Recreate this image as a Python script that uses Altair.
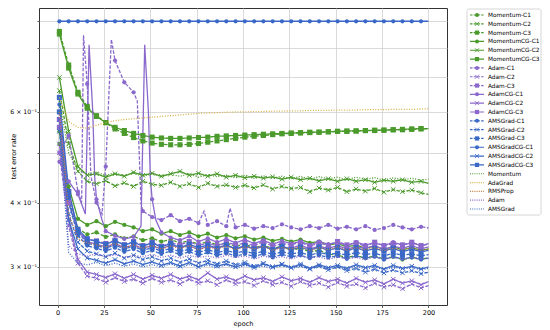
import altair as alt
import pandas as pd

EPOCHS = [1, 6, 11, 16, 21, 26, 31, 36, 41, 46, 51, 56, 61, 66, 71, 76, 81, 86, 91, 96,
          101, 106, 111, 116, 121, 126, 131, 136, 141, 146, 151, 156, 161, 166, 171, 176,
          181, 186, 191, 196, 200]

MOMENTUM_C1 = [0.52, 0.40, 0.356, 0.347, 0.350, 0.343, 0.347, 0.341, 0.344, 0.338, 0.341, 0.336, 0.339, 0.334, 0.337, 0.332, 0.336, 0.331, 0.334, 0.329, 0.332, 0.327, 0.330, 0.326, 0.329, 0.323, 0.326, 0.321, 0.323, 0.318, 0.316, 0.313, 0.316, 0.312, 0.315, 0.311, 0.314, 0.310, 0.313, 0.311, 0.312]
MOMENTUM_C2 = [0.66, 0.52, 0.46, 0.440, 0.435, 0.441, 0.431, 0.437, 0.430, 0.440, 0.434, 0.432, 0.438, 0.430, 0.435, 0.428, 0.436, 0.430, 0.433, 0.428, 0.432, 0.427, 0.433, 0.425, 0.430, 0.426, 0.428, 0.420, 0.427, 0.423, 0.428, 0.420, 0.425, 0.421, 0.426, 0.419, 0.424, 0.420, 0.423, 0.418, 0.415]
MOMENTUM_C3 = [0.86, 0.74, 0.655, 0.615, 0.59, 0.572, 0.556, 0.545, 0.535, 0.527, 0.522, 0.519, 0.518, 0.518, 0.519, 0.521, 0.524, 0.527, 0.53, 0.533, 0.536, 0.538, 0.54, 0.542, 0.544, 0.545, 0.546, 0.547, 0.548, 0.549, 0.55, 0.55, 0.551, 0.552, 0.552, 0.553, 0.554, 0.554, 0.555, 0.556, 0.556]
MOMENTUMCG_C1 = [0.55, 0.43, 0.372, 0.362, 0.368, 0.360, 0.367, 0.362, 0.358, 0.352, 0.355, 0.348, 0.352, 0.346, 0.350, 0.344, 0.348, 0.342, 0.346, 0.341, 0.344, 0.339, 0.342, 0.337, 0.340, 0.336, 0.339, 0.334, 0.336, 0.331, 0.333, 0.328, 0.331, 0.326, 0.329, 0.325, 0.328, 0.324, 0.327, 0.323, 0.325]
MOMENTUMCG_C2 = [0.70, 0.55, 0.47, 0.452, 0.455, 0.448, 0.455, 0.450, 0.458, 0.452, 0.456, 0.450, 0.455, 0.460, 0.452, 0.456, 0.450, 0.455, 0.448, 0.452, 0.447, 0.450, 0.446, 0.449, 0.444, 0.448, 0.443, 0.446, 0.441, 0.445, 0.440, 0.445, 0.440, 0.443, 0.438, 0.442, 0.440, 0.443, 0.438, 0.440, 0.436]
MOMENTUMCG_C3 = [0.85, 0.73, 0.65, 0.61, 0.588, 0.572, 0.56, 0.552, 0.545, 0.54, 0.536, 0.534, 0.533, 0.533, 0.534, 0.535, 0.536, 0.538, 0.539, 0.54, 0.541, 0.542, 0.543, 0.544, 0.545, 0.546, 0.547, 0.548, 0.548, 0.549, 0.55, 0.551, 0.551, 0.552, 0.553, 0.553, 0.554, 0.555, 0.556, 0.557, 0.557]

ADAM_C1_EPOCHS = [1, 6, 11, 13, 14, 16, 18, 21, 24, 26, 29, 31, 36, 41, 43, 45, 46, 51, 56, 61,
                  66, 71, 76, 79, 81, 86, 91, 93, 96, 101, 106, 111, 116, 121, 126, 131, 136,
                  141, 146, 151, 156, 161, 166, 171, 176, 181, 186, 191, 196, 200]
ADAM_C1 = [0.50, 0.54, 0.42, 0.40, 0.845, 0.68, 0.45, 0.40, 0.38, 0.47, 0.83, 0.755, 0.685, 0.655, 0.63, 0.40, 0.385, 0.375, 0.370, 0.378,
           0.368, 0.372, 0.365, 0.385, 0.362, 0.368, 0.360, 0.390, 0.358, 0.362, 0.356, 0.360, 0.357, 0.363, 0.358, 0.355, 0.360, 0.357, 0.362, 0.356,
           0.359, 0.355, 0.360, 0.354, 0.357, 0.362, 0.358, 0.355, 0.359, 0.357]
ADAM_C2 = [0.50, 0.36, 0.305, 0.288, 0.285, 0.280, 0.286, 0.281, 0.284, 0.279, 0.285, 0.280, 0.283, 0.278, 0.284, 0.279, 0.282, 0.277, 0.283, 0.278, 0.281, 0.276, 0.282, 0.277, 0.280, 0.275, 0.281, 0.276, 0.279, 0.274, 0.280, 0.275, 0.278, 0.273, 0.279, 0.274, 0.277, 0.272, 0.278, 0.273, 0.276]
ADAM_C3 = [0.56, 0.40, 0.350, 0.340, 0.337, 0.333, 0.338, 0.331, 0.336, 0.330, 0.335, 0.329, 0.334, 0.331, 0.336, 0.330, 0.334, 0.329, 0.335, 0.331, 0.334, 0.330, 0.336, 0.329, 0.333, 0.331, 0.335, 0.329, 0.334, 0.330, 0.336, 0.331, 0.334, 0.329, 0.335, 0.330, 0.333, 0.331, 0.335, 0.330, 0.332]
ADAMCG_C1_EPOCHS = [1, 6, 11, 15, 17, 19, 20, 21, 24, 26, 31, 36, 41, 45, 47, 49, 50, 51, 53, 56,
                    61, 66, 71, 76, 81, 86, 91, 96, 101, 106, 111, 116, 121, 126, 131, 136, 141,
                    146, 151, 156, 161, 166, 171, 176, 181, 186, 191, 196, 200]
ADAMCG_C1 = [0.48, 0.44, 0.415, 0.38, 0.81, 0.60, 0.45, 0.406, 0.37, 0.352, 0.345, 0.34, 0.343, 0.36, 0.81, 0.60, 0.45, 0.406, 0.37, 0.35,
             0.342, 0.338, 0.344, 0.336, 0.341, 0.335, 0.34, 0.334, 0.339, 0.333, 0.338, 0.332, 0.337, 0.333, 0.336, 0.331, 0.336, 0.332, 0.335, 0.33,
             0.335, 0.331, 0.334, 0.33, 0.335, 0.331, 0.334, 0.33, 0.333]
ADAMCG_C2 = [0.52, 0.37, 0.31, 0.293, 0.290, 0.286, 0.291, 0.285, 0.290, 0.284, 0.289, 0.285, 0.290, 0.284, 0.288, 0.283, 0.292, 0.284, 0.287, 0.282, 0.288, 0.283, 0.286, 0.281, 0.287, 0.282, 0.285, 0.280, 0.286, 0.281, 0.284, 0.279, 0.285, 0.280, 0.283, 0.278, 0.284, 0.279, 0.282, 0.277, 0.281]
ADAMCG_C3 = [0.58, 0.42, 0.352, 0.336, 0.332, 0.328, 0.333, 0.327, 0.331, 0.326, 0.330, 0.325, 0.331, 0.327, 0.330, 0.324, 0.329, 0.326, 0.331, 0.325, 0.329, 0.326, 0.330, 0.324, 0.328, 0.326, 0.331, 0.325, 0.329, 0.326, 0.330, 0.325, 0.328, 0.326, 0.330, 0.324, 0.329, 0.326, 0.330, 0.325, 0.328]

AMSGRAD_C1 = [0.62, 0.40, 0.345, 0.330, 0.326, 0.322, 0.327, 0.321, 0.325, 0.319, 0.323, 0.318, 0.322, 0.317, 0.321, 0.316, 0.320, 0.316, 0.319, 0.315, 0.318, 0.314, 0.318, 0.313, 0.317, 0.314, 0.316, 0.312, 0.316, 0.313, 0.315, 0.311, 0.315, 0.312, 0.314, 0.310, 0.314, 0.311, 0.313, 0.310, 0.312]
AMSGRAD_C2 = [0.55, 0.38, 0.335, 0.322, 0.318, 0.314, 0.319, 0.312, 0.316, 0.310, 0.314, 0.308, 0.312, 0.306, 0.311, 0.305, 0.309, 0.304, 0.308, 0.303, 0.306, 0.301, 0.305, 0.300, 0.304, 0.299, 0.302, 0.297, 0.301, 0.296, 0.300, 0.295, 0.298, 0.293, 0.297, 0.292, 0.296, 0.292, 0.295, 0.291, 0.293]
AMSGRAD_C3 = [0.60, 0.41, 0.350, 0.334, 0.330, 0.326, 0.331, 0.325, 0.329, 0.323, 0.327, 0.322, 0.326, 0.321, 0.325, 0.320, 0.324, 0.320, 0.323, 0.319, 0.322, 0.318, 0.322, 0.317, 0.321, 0.318, 0.320, 0.316, 0.320, 0.317, 0.319, 0.316, 0.320, 0.317, 0.319, 0.315, 0.319, 0.316, 0.318, 0.315, 0.317]
AMSGRADCG_C1 = [0.90, 0.90, 0.90, 0.90, 0.90, 0.90, 0.90, 0.90, 0.90, 0.90, 0.90, 0.90, 0.90, 0.90, 0.90, 0.90, 0.90, 0.90, 0.90, 0.90, 0.90, 0.90, 0.90, 0.90, 0.90, 0.90, 0.90, 0.90, 0.90, 0.90, 0.90, 0.90, 0.90, 0.90, 0.90, 0.90, 0.90, 0.90, 0.90, 0.90, 0.90]
AMSGRADCG_C2 = [0.58, 0.37, 0.325, 0.312, 0.309, 0.305, 0.310, 0.304, 0.308, 0.303, 0.307, 0.302, 0.306, 0.301, 0.306, 0.300, 0.305, 0.301, 0.304, 0.300, 0.304, 0.299, 0.304, 0.300, 0.303, 0.299, 0.304, 0.298, 0.303, 0.299, 0.302, 0.298, 0.303, 0.299, 0.302, 0.297, 0.302, 0.298, 0.301, 0.297, 0.300]
AMSGRADCG_C3 = [0.64, 0.42, 0.355, 0.340, 0.336, 0.332, 0.337, 0.331, 0.335, 0.329, 0.334, 0.328, 0.333, 0.327, 0.332, 0.327, 0.331, 0.326, 0.331, 0.325, 0.330, 0.325, 0.329, 0.324, 0.329, 0.324, 0.328, 0.323, 0.328, 0.323, 0.327, 0.322, 0.327, 0.322, 0.326, 0.322, 0.326, 0.321, 0.325, 0.321, 0.323]

MOMENTUM = [0.63, 0.50, 0.462, 0.455, 0.458, 0.452, 0.457, 0.451, 0.456, 0.450, 0.455, 0.449, 0.454, 0.450, 0.455, 0.448, 0.453, 0.449, 0.452, 0.447, 0.452, 0.446, 0.451, 0.446, 0.450, 0.445, 0.450, 0.444, 0.449, 0.445, 0.448, 0.443, 0.448, 0.444, 0.447, 0.442, 0.447, 0.443, 0.446, 0.442, 0.444]
ADAGRAD = [0.64, 0.575, 0.560, 0.558, 0.565, 0.572, 0.577, 0.580, 0.582, 0.584, 0.586, 0.588, 0.590, 0.592, 0.594, 0.596, 0.597, 0.598, 0.599, 0.600, 0.600, 0.601, 0.601, 0.602, 0.602, 0.603, 0.603, 0.604, 0.604, 0.604, 0.605, 0.605, 0.605, 0.606, 0.606, 0.606, 0.607, 0.607, 0.607, 0.608, 0.608]
RMSPROP = [0.60, 0.38, 0.340, 0.334, 0.331, 0.328, 0.333, 0.327, 0.331, 0.326, 0.330, 0.325, 0.329, 0.326, 0.330, 0.324, 0.328, 0.325, 0.329, 0.324, 0.328, 0.325, 0.329, 0.323, 0.327, 0.325, 0.328, 0.323, 0.327, 0.324, 0.328, 0.323, 0.327, 0.324, 0.327, 0.323, 0.326, 0.324, 0.327, 0.323, 0.325]
ADAM = [0.58, 0.33, 0.318, 0.315, 0.318, 0.314, 0.317, 0.313, 0.316, 0.314, 0.317, 0.313, 0.316, 0.312, 0.316, 0.313, 0.315, 0.312, 0.316, 0.313, 0.315, 0.311, 0.315, 0.312, 0.314, 0.311, 0.315, 0.312, 0.314, 0.310, 0.314, 0.311, 0.313, 0.310, 0.314, 0.311, 0.313, 0.310, 0.313, 0.311, 0.312]
AMSGRAD = [0.56, 0.32, 0.305, 0.303, 0.306, 0.302, 0.305, 0.301, 0.304, 0.300, 0.303, 0.300, 0.304, 0.299, 0.303, 0.300, 0.302, 0.299, 0.303, 0.298, 0.302, 0.299, 0.301, 0.298, 0.302, 0.298, 0.301, 0.297, 0.301, 0.298, 0.300, 0.297, 0.301, 0.297, 0.300, 0.296, 0.300, 0.297, 0.299, 0.296, 0.298]

SERIES = ["Momentum-C1", "Momentum-C2", "Momentum-C3",
          "MomentumCG-C1", "MomentumCG-C2", "MomentumCG-C3",
          "Adam-C1", "Adam-C2", "Adam-C3",
          "AdamCG-C1", "AdamCG-C2", "AdamCG-C3",
          "AMSGrad-C1", "AMSGrad-C2", "AMSGrad-C3",
          "AMSGradCG-C1", "AMSGradCG-C2", "AMSGradCG-C3",
          "Momentum", "AdaGrad", "RMSProp", "Adam", "AMSGrad"]

DATA = {
    "Momentum-C1": (EPOCHS, MOMENTUM_C1), "Momentum-C2": (EPOCHS, MOMENTUM_C2),
    "Momentum-C3": (EPOCHS, MOMENTUM_C3), "MomentumCG-C1": (EPOCHS, MOMENTUMCG_C1),
    "MomentumCG-C2": (EPOCHS, MOMENTUMCG_C2), "MomentumCG-C3": (EPOCHS, MOMENTUMCG_C3),
    "Adam-C1": (ADAM_C1_EPOCHS, ADAM_C1), "Adam-C2": (EPOCHS, ADAM_C2),
    "Adam-C3": (EPOCHS, ADAM_C3), "AdamCG-C1": (ADAMCG_C1_EPOCHS, ADAMCG_C1),
    "AdamCG-C2": (EPOCHS, ADAMCG_C2), "AdamCG-C3": (EPOCHS, ADAMCG_C3),
    "AMSGrad-C1": (EPOCHS, AMSGRAD_C1), "AMSGrad-C2": (EPOCHS, AMSGRAD_C2),
    "AMSGrad-C3": (EPOCHS, AMSGRAD_C3), "AMSGradCG-C1": (EPOCHS, AMSGRADCG_C1),
    "AMSGradCG-C2": (EPOCHS, AMSGRADCG_C2), "AMSGradCG-C3": (EPOCHS, AMSGRADCG_C3),
    "Momentum": (EPOCHS, MOMENTUM), "AdaGrad": (EPOCHS, ADAGRAD),
    "RMSProp": (EPOCHS, RMSPROP), "Adam": (EPOCHS, ADAM), "AMSGrad": (EPOCHS, AMSGRAD),
}

GREEN, PURPLE, BLUE = "#4b9a2c", "#8a68cc", "#3a68c6"
COLORS = [GREEN] * 6 + [PURPLE] * 6 + [BLUE] * 6 + [GREEN, "#d8b14a", "#c97d3f", PURPLE, BLUE]


def style_of(name):
    if "-C" not in name:
        return "dotted"
    return "solid" if "CG-" in name else "dashed"


def marker_of(name):
    if name.endswith("-C1"):
        return "circle"
    if name.endswith("-C2"):
        return "x"
    if name.endswith("-C3"):
        return "square"
    return "none"


rows = []
for name in SERIES:
    eps, vals = DATA[name]
    for e, v in zip(eps, vals):
        rows.append({"series": name, "epoch": e, "value": v,
                     "style": style_of(name), "marker": marker_of(name),
                     "show": ((e - 1) % 5 == 0) and e <= 196})
df = pd.DataFrame(rows)

leg_df = pd.DataFrame({"series": SERIES,
                       "style": [style_of(s) for s in SERIES],
                       "marker": [marker_of(s) for s in SERIES]})

DASHED, SOLID, DOTTED = [3.5, 1.6], [1, 0], [1, 1.6]
X_SHAPE = "M-1,-1L1,1M-1,1L1,-1"
LABEL_EXPR = ("abs(datum.value-0.3)<1e-6 ? '3 × 10⁻¹' : abs(datum.value-0.4)<1e-6 ? '4 × 10⁻¹' : "
              "abs(datum.value-0.6)<1e-6 ? '6 × 10⁻¹' : ''")
FONT = "DejaVu Sans"
TXT = "#000000"

x_enc = alt.X("epoch:Q", scale=alt.Scale(domain=[-10, 210], nice=False, zero=False),
              axis=alt.Axis(values=[0, 25, 50, 75, 100, 125, 150, 175, 200], title="epoch",
                            grid=True, tickSize=2.5, labelPadding=1.5,
                            labelFont=FONT, labelFontSize=6.5, labelColor=TXT,
                            titleFont=FONT, titleFontSize=6.5, titleFontWeight="normal", titleColor=TXT,
                            titleY=21, titleBaseline="bottom",
                            labelOverlap=False, labelFlush=False))
y_enc = alt.Y("value:Q", scale=alt.Scale(type="log", domain=[0.253, 0.955], nice=False),
              axis=alt.Axis(values=[0.3, 0.4, 0.5, 0.6, 0.7, 0.8, 0.9], title="test error rate",
                            grid=True, tickSize=2, labelPadding=0.5, labelOverlap=False,
                            labelFont=FONT, labelFontSize=6.2, labelColor=TXT, labelExpr=LABEL_EXPR,
                            titleFont=FONT, titleFontSize=6.5, titleFontWeight="normal", titleColor=TXT,
                            titleX=-23, titleY=148))
color_enc = alt.Color("series:N", scale=alt.Scale(domain=SERIES, range=COLORS), legend=None)

base = alt.Chart(df)


def lines(style, dash):
    return base.transform_filter(alt.datum.style == style).mark_line(
        strokeDash=dash, strokeWidth=1.3, clip=True).encode(x=x_enc, y=y_enc, color=color_enc)


def markers(kind, **kw):
    return base.transform_filter((alt.datum.marker == kind) & alt.datum.show).mark_point(
        clip=True, opacity=1, **kw).encode(x=x_enc, y=y_enc, color=color_enc)


main = alt.layer(
    lines("dashed", DASHED),
    lines("solid", SOLID),
    markers("circle", shape="circle", filled=True, size=18),
    markers("square", shape="square", filled=True, size=26),
    markers("x", shape=X_SHAPE, filled=False, size=20, strokeWidth=1),
    lines("dotted", DOTTED),
)

# legend (drawn beside the plot)
y_leg = alt.Y("series:N", scale=alt.Scale(type="point", domain=SERIES, range=[7, 201], padding=0), axis=None)
leg_base = alt.Chart(leg_df)
box = alt.Chart(pd.DataFrame({"k": [0]})).mark_rect(
    fill="white", stroke="#cccccc", strokeWidth=0.8, cornerRadius=2).encode(
    x=alt.value(428), x2=alt.value(502), y=alt.value(1), y2=alt.value(207))


def leg_rule(style, dash):
    return leg_base.transform_filter(alt.datum.style == style).mark_rule(
        strokeDash=dash, strokeWidth=1.2).encode(
        x=alt.value(431), x2=alt.value(445), y=y_leg, color=color_enc)


def leg_marker(kind, **kw):
    return leg_base.transform_filter(alt.datum.marker == kind).mark_point(
        opacity=1, **kw).encode(x=alt.value(438), y=y_leg, color=color_enc)


leg_text = leg_base.mark_text(align="left", baseline="middle", fontSize=5.8,
                              font=FONT, color=TXT).encode(
    x=alt.value(449), y=y_leg, text="series:N")

legend = alt.layer(
    box,
    leg_rule("dashed", [2.5, 1.2]),
    leg_rule("solid", SOLID),
    leg_rule("dotted", [1, 1.2]),
    leg_marker("circle", shape="circle", filled=True, size=16),
    leg_marker("square", shape="square", filled=True, size=18),
    leg_marker("x", shape=X_SHAPE, filled=False, size=16, strokeWidth=0.9),
    leg_text,
)

chart = alt.layer(main, legend).resolve_scale(y="independent").properties(
    width=408, height=297,
    background="white",
    autosize=alt.AutoSizeParams(type="none"),
    padding={"left": 31, "top": 0, "right": 95, "bottom": 23},
).configure_view(
    stroke="#333333", strokeWidth=1
).configure_axis(
    domain=False, gridColor="#d0d0d0", gridWidth=0.8, tickColor="#333333", tickWidth=0.8,
    labelFont=FONT, labelFontSize=6.2, labelColor=TXT,
    titleFont=FONT, titleFontSize=6.5, titleFontWeight="normal", titleColor=TXT,
)

chart.save("out.html", embed_options={"renderer": "svg", "actions": False})
